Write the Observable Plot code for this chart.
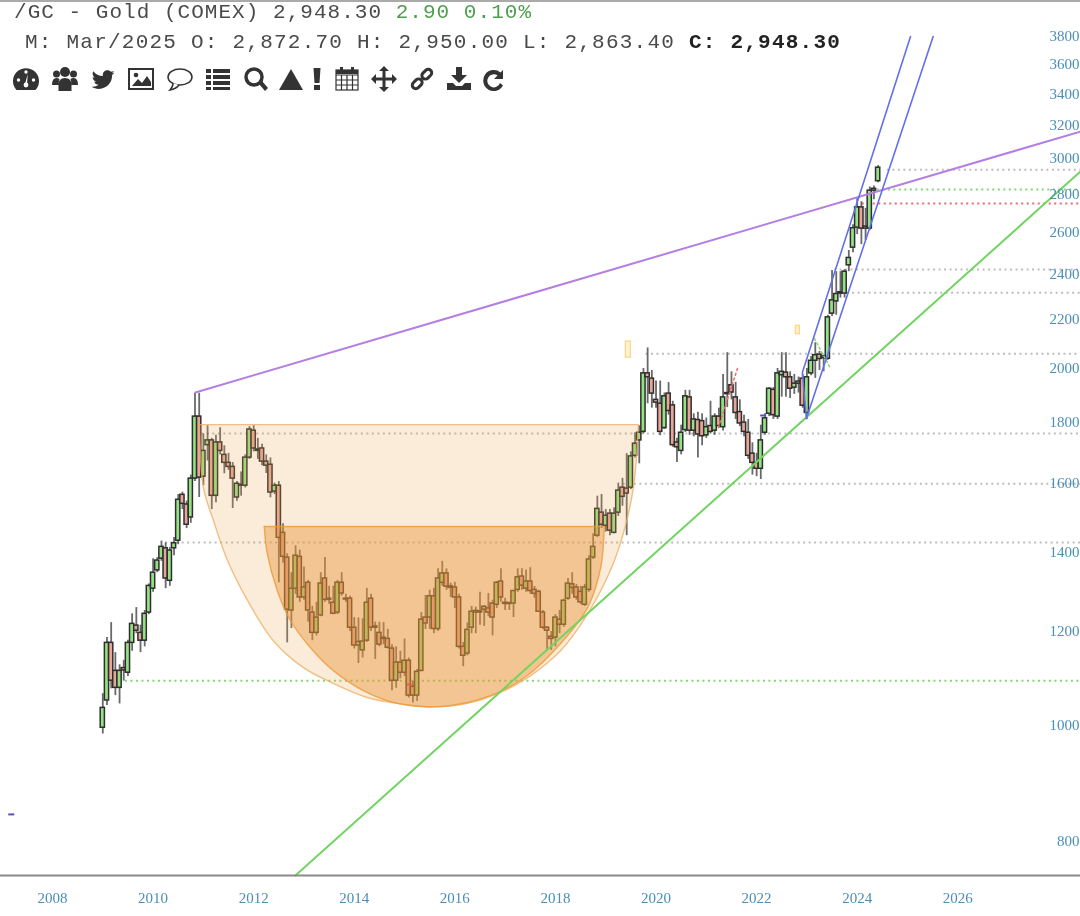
<!DOCTYPE html>
<html><head><meta charset="utf-8">
<script src="https://cdn.jsdelivr.net/npm/d3@7"></script>
<script src="https://cdn.jsdelivr.net/npm/@observablehq/plot@0.6"></script>
<style>
html,body{margin:0;padding:0;background:#fff;width:1080px;height:916px;overflow:hidden}
#wrap{position:relative;width:1080px;height:916px;filter:blur(.5px)}
#chart{position:absolute;left:0;top:0}
#head{position:absolute;left:0;top:0;width:1080px;border-top:2px solid #aaa;font-family:"Liberation Mono",monospace;font-size:21px;color:#4a4a4a;white-space:pre}
.l{position:absolute;line-height:24px}
.icon{position:absolute;top:66px;width:26px;height:26px;fill:#333;stroke:none}
</style></head><body>
<div id="wrap"><div id="chart"></div>
<div id="head">
<div class="l" style="left:14px;top:-1px;letter-spacing:1.03px">/GC - Gold (COMEX) 2,948.30 <span style="color:#4f9e4f">2.90 0.10%</span></div>
<div class="l" style="left:25px;top:29px;letter-spacing:1.23px">M: Mar/2025 O: 2,872.70 H: 2,950.00 L: 2,863.40 <b style="color:#222">C: 2,948.30</b></div>
</div>
<div id="icons"></div>
</div>
<script>
// ---- monthly candles (price, COMEX gold) ----
const opens=[996,1050,1174,1112,1076,1118,1108,1174,1214,1197,1179,1245,1304,1351,1382,1410,1324,1410,1431,1564,1535,1497,1614,1820,1620,1722,1738,1561,1731,1690,1664,1651,1556,1592,1592,1681,1771,1708,1711,1668,1658,1574,1592,1453,1385,1250,1304,1387,1282,1319,1245,1197,1238,1330,1276,1269,1245,1319,1279,1279,1209,1168,1157,1179,1279,1209,1197,1183,1183,1161,1091,1130,1108,1134,1078,1060,1112,1233,1233,1285,1206,1319,1343,1310,1307,1282,1165,1150,1209,1249,1248,1252,1255,1267,1264,1322,1269,1266,1267,1301,1335,1304,1322,1301,1296,1245,1209,1188,1186,1228,1216,1279,1315,1307,1296,1264,1301,1385,1445,1511,1473,1508,1453,1511,1586,1583,1586,1687,1738,1767,1979,1959,1880,1866,1780,1903,1860,1731,1703,1773,1889,1771,1808,1804,1755,1787,1771,1820,1783,1901,1934,1889,1836,1799,1764,1694,1664,1645,1764,1830,1917,1820,1972,1982,1964,1925,1940,1959,1833,1979,2028,2052,2038,2036,2222,2275,2316,2310,2440,2525,2625,2730,2630,2620,2820,2872];
const highs=[1064,1186,1221,1152,1125,1135,1180,1242,1257,1215,1250,1316,1382,1385,1430,1425,1412,1440,1565,1572,1545,1625,1904,1904,1760,1788,1745,1755,1781,1720,1695,1665,1605,1635,1690,1785,1788,1745,1725,1690,1680,1600,1605,1479,1395,1345,1417,1405,1360,1325,1260,1270,1345,1385,1310,1310,1325,1345,1290,1285,1233,1232,1230,1305,1290,1222,1222,1221,1205,1170,1165,1155,1183,1140,1090,1115,1245,1287,1300,1305,1355,1375,1355,1318,1320,1290,1175,1220,1260,1258,1295,1262,1292,1275,1322,1355,1280,1270,1300,1355,1355,1352,1358,1310,1300,1250,1212,1200,1240,1250,1278,1330,1345,1315,1310,1315,1390,1450,1560,1565,1520,1520,1525,1600,1615,1694,1700,1764,1788,1998,2079,1990,1950,1950,1905,1944,1875,1745,1790,1915,1915,1830,1835,1830,1815,1875,1830,1850,1975,2060,1985,1945,1880,1825,1810,1730,1695,1790,1830,1925,1925,1998,2060,2060,1985,1975,1965,1975,1998,2045,2100,2065,2050,2215,2416,2410,2410,2420,2511,2640,2777,2760,2725,2840,2845,2960];
const lows=[984,1040,1074,1060,1043,1090,1100,1155,1195,1152,1165,1240,1295,1345,1375,1304,1310,1390,1420,1520,1465,1480,1605,1556,1592,1670,1520,1540,1690,1629,1640,1523,1545,1560,1585,1675,1700,1675,1655,1630,1555,1565,1319,1370,1174,1207,1290,1270,1275,1222,1179,1190,1235,1270,1265,1240,1240,1285,1270,1200,1160,1128,1140,1175,1200,1137,1165,1170,1160,1070,1075,1095,1100,1055,1045,1048,1110,1205,1205,1195,1200,1310,1300,1282,1255,1160,1121,1145,1195,1195,1215,1212,1235,1190,1255,1270,1250,1250,1233,1295,1300,1295,1290,1280,1245,1205,1157,1157,1165,1195,1210,1275,1290,1275,1265,1260,1295,1380,1440,1465,1455,1445,1450,1500,1530,1445,1580,1680,1661,1760,1866,1850,1850,1754,1775,1825,1715,1665,1690,1765,1755,1750,1680,1720,1745,1760,1755,1780,1770,1852,1880,1810,1785,1750,1675,1625,1620,1611,1755,1820,1810,1810,1890,1890,1885,1900,1905,1850,1810,1970,1960,1990,1985,2030,2210,2215,2290,2290,2410,2500,2590,2540,2560,2610,2770,2863];
const closes=[1035,1174,1091,1076,1112,1113,1174,1218,1202,1179,1242,1311,1345,1377,1414,1330,1404,1424,1549,1537,1476,1614,1820,1617,1703,1738,1561,1731,1703,1664,1651,1614,1598,1595,1681,1775,1711,1703,1668,1655,1571,1592,1439,1387,1252,1304,1390,1282,1307,1250,1197,1233,1317,1276,1279,1242,1319,1292,1277,1209,1168,1176,1177,1269,1209,1212,1170,1186,1163,1091,1130,1108,1134,1060,1060,1110,1228,1219,1285,1206,1330,1343,1309,1306,1282,1165,1145,1204,1247,1245,1245,1259,1245,1233,1319,1282,1266,1268,1298,1333,1312,1322,1298,1291,1247,1209,1202,1183,1233,1216,1274,1317,1306,1282,1270,1307,1380,1414,1522,1476,1502,1459,1508,1577,1558,1568,1685,1727,1764,1979,1964,1903,1870,1767,1893,1840,1722,1715,1764,1893,1771,1810,1758,1752,1783,1767,1820,1787,1889,1905,1907,1833,1796,1767,1687,1664,1645,1738,1814,1921,1825,1979,1985,1964,1921,1940,1948,1859,1964,2028,2050,2035,2045,2206,2280,2308,2310,2410,2475,2622,2730,2620,2620,2820,2830,2948];
const firstYear=2009;                    // the first candle sits on this axis position
const bodyHalfWidth=0.042;               // in years

// ---- axes ----
const yearTicks=[2008,2010,2012,2014,2016,2018,2020,2022,2024,2026];
const priceTicks=[800,1000,1200,1400,1600,1800,2000,2200,2400,2600,2800,3000,3200,3400,3600,3800];

// ---- horizontal levels ----
const grayLevels=[{p:2937,from:2024.6},{p:2420,from:2023.55},{p:2314,from:2023.8},{p:2056,from:2019.8},{p:1761,from:2010.97},{p:1598,from:2019.35},{p:1426,from:2010.25}];
const greenLevels=[{p:2826,from:2024.4},{p:1091,from:2009.45}];
const redLevels=[{p:2750,from:2024.1}];

// ---- trend lines ----
const purpleYears=[2010.84,2028.44], purplePrices=[1907,3162];
const greenYears=[2012.83,2028.44], greenPrices=[748,2926];
const blueYears=[2025.06,2022.91,2022.99,2025.51], bluePrices=[3801,1982,1813,3801];
const zipXY=(xs,ys)=>xs.map((x,i)=>({x,y:ys[i]}));

// ---- bowls: curved edge, closed straight along the top ----
const outerYears=[2010.92,2011.00,2011.20,2011.48,2011.88,2012.39,2012.99,2013.59,2014.26,2014.86,2015.57,2016.25,2016.85,2017.44,2018.10,2018.64,2019.09,2019.35,2019.55,2019.65];
const outerPrices=[1792,1586,1488,1377,1274,1179,1119,1085,1056,1044,1037,1044,1064,1097,1156,1242,1350,1451,1586,1792];
const innerYears=[2012.21,2012.27,2012.47,2012.73,2013.13,2013.59,2014.26,2014.86,2015.57,2016.25,2016.85,2017.44,2018.10,2018.64,2018.90,2018.97];
const innerPrices=[1471,1396,1299,1226,1163,1112,1066,1044,1037,1046,1066,1102,1172,1257,1358,1471];

// ---- small drawing-tool marks ----
const tagBoxes=[{x1:2019.40,x2:2019.50,top:2105,bottom:2040},{x1:2022.78,x2:2022.86,top:2170,bottom:2135}];
const blueTicks=[{x1:2007.13,x2:2007.25,p:842,s:"#5b50c4"},{x1:2022.08,x2:2022.20,p:1824,s:"#5050dd"},{x1:2015.06,x2:2015.18,p:1083,s:"#e8604a"}];
const redDiagYears=[2021.24,2021.62], redDiagPrices=[1782,1998];
const greenDiagYears=[2023.15,2023.47], greenDiagPrices=[2117,1998];

const xScale={type:"linear",domain:[2006.966,2028.44],range:[0,1080]};
const yScale={type:"log",domain:[748,4076],range:[875,0]};
const candles=opens.map((o,i)=>({x:firstYear+i/12,o,h:highs[i],l:lows[i],c:closes[i]}));
const dots={strokeDasharray:"2,3.5",strokeWidth:2};
const levelMark=(rows,stroke)=>Plot.ruleY(rows,{y:"p",x1:"from",x2:()=>2028.44,stroke,...dots});

const plot=Plot.plot({
  width:1080,height:916,marginTop:0,marginRight:0,marginBottom:41,marginLeft:0,
  x:xScale,y:yScale,
  style:{background:"transparent",fontFamily:"'Liberation Serif',serif"},
  marks:[
    levelMark(grayLevels,"#bdbdbd"),
    levelMark(greenLevels,"#86d476"),
    levelMark(redLevels,"#f06a6a"),
    Plot.ruleX(candles,{x:"x",y1:"l",y2:"h",stroke:"#444",strokeWidth:1.8,strokeOpacity:.8}),
    Plot.rect(candles,{x1:d=>d.x-bodyHalfWidth,x2:d=>d.x+bodyHalfWidth,y1:"o",y2:"c",
      fill:d=>d.c>=d.o?"#93e283":"#e9a698",stroke:"#2e2e2e",strokeWidth:1.5}),
    Plot.line(zipXY(redDiagYears,redDiagPrices),{x:"x",y:"y",stroke:"#f06a6a",strokeWidth:1.5,strokeDasharray:"2,3"}),
    Plot.line(zipXY(greenDiagYears,greenDiagPrices),{x:"x",y:"y",stroke:"#86d476",strokeWidth:1.5,strokeDasharray:"2,3"}),
    Plot.line(zipXY(outerYears,outerPrices),{x:"x",y:"y",curve:"catmull-rom",fill:"#e8a850",fillOpacity:.22,stroke:"#efab60",strokeWidth:1.4,strokeOpacity:.75}),
    Plot.line(zipXY(innerYears,innerPrices),{x:"x",y:"y",curve:"catmull-rom",fill:"#e8902f",fillOpacity:.42,stroke:"#ee9a3a",strokeWidth:1.4,strokeOpacity:.8}),
    Plot.ruleY([outerPrices[0]],{x1:outerYears[0],x2:outerYears[19],stroke:"#efab60",strokeWidth:1.4,strokeOpacity:.75}),
    Plot.ruleY([innerPrices[0]],{x1:innerYears[0],x2:innerYears[15],stroke:"#ee9a3a",strokeWidth:1.4,strokeOpacity:.8}),
    Plot.line(zipXY(purpleYears,purplePrices),{x:"x",y:"y",stroke:"#b47fe2",strokeWidth:2}),
    Plot.line(zipXY(greenYears,greenPrices),{x:"x",y:"y",stroke:"#72d463",strokeWidth:2}),
    Plot.line(zipXY(blueYears,bluePrices),{x:"x",y:"y",stroke:"#6470ea",strokeWidth:1.6}),
    Plot.rect(tagBoxes,{x1:"x1",x2:"x2",y1:"bottom",y2:"top",fill:"#fff3d6",stroke:"#fbd68b",strokeWidth:1.3}),
    Plot.ruleY(blueTicks,{y:"p",x1:"x1",x2:"x2",stroke:"s",strokeWidth:2}),
    Plot.ruleY([748],{stroke:"#8a8a8a",strokeWidth:2}),
    Plot.axisX(yearTicks,{anchor:"bottom",tickSize:0,tickPadding:17,tickFormat:d=>String(d),label:null,fontSize:15,fill:"#4a8fb6"}),
    Plot.axisY(priceTicks,{anchor:"left",tickSize:0,tickPadding:0,dx:1079,tickFormat:d=>String(d),label:null,fontSize:15,fill:"#4a8fb6"})
  ]
});
document.getElementById("chart").append(plot);

// ---- toolbar glyphs (not data) ----
const icons=[
 [26,'<path d="M3.500 24a13 13 0 1 1 19 0z"/><g fill="#fff"><circle cx="5.500" cy="14" r="1.700"/><circle cx="13" cy="6" r="1.700"/><circle cx="20.500" cy="14" r="1.700"/><path d="M14.800 8l-.8 10h-2z"/><circle cx="13" cy="19" r="2.400"/></g>'],
 [65,'<circle cx="13" cy="6" r="5"/><circle cx="4.500" cy="8" r="3.500"/><circle cx="21.500" cy="8" r="3.500"/><path d="M0 19q0-7 4.500-7q2 0 3 1q-1 3-1 6H0zM26 19q0-7-4.500-7q-2 0-3 1q1 3 1 6H26zM6.500 25v-6q0-7 6.500-7t6.500 7v6z"/>'],
 [103,'<path transform="scale(1.09)" d="M22.460 6c-.77.35-1.600.58-2.460.69.88-.53 1.560-1.370 1.880-2.380-.83.5-1.750.85-2.720 1.050C18.370 4.500 17.260 4 16 4c-2.350 0-4.270 1.920-4.270 4.290 0 .34.04.67.11.98C8.280 9.090 5.110 7.380 3 4.790c-.37.63-.58 1.370-.58 2.150 0 1.490.75 2.810 1.910 3.560-.71 0-1.370-.2-1.950-.5v.03c0 2.080 1.480 3.820 3.440 4.210a4.220 4.220 0 0 1-1.930.07 4.280 4.280 0 0 0 4 2.980 8.520 8.520 0 0 1-5.330 1.840c-.34 0-.68-.02-1.020-.06C3.440 20.290 5.700 21 8.120 21 16 21 20.330 14.460 20.330 8.790c0-.19 0-.37-.01-.56.84-.6 1.560-1.360 2.140-2.230z"/>'],
 [141,'<rect x="1" y="3" width="24" height="20" fill="none" stroke="#333" stroke-width="2"/><path d="M4 20l6-7 4 4 5-7 4 6v4z"/><circle cx="8" cy="9" r="2.300"/>'],
 [180,'<ellipse cx="13" cy="11" rx="12" ry="8" fill="none" stroke="#333" stroke-width="1.500"/><path d="M6 17q0 4-3 7q6-1 9-5" fill="#fff" stroke="#333" stroke-width="1.500"/>'],
 [218,'<path d="M1 3h5v4H1zM8 3h17v4H8zM1 9h5v4H1zM8 9h17v4H8zM1 15h5v4H1zM8 15h17v4H8zM1 21h5v3H1zM8 21h17v3H8z"/>'],
 [256,'<circle cx="11" cy="11" r="8" fill="none" stroke="#333" stroke-width="3.500"/><path d="M16 18l3-3 6 7-3 3z"/>'],
 [291,'<path d="M13 3l12 21H1z"/>'],
 [317,'<path d="M9.500 2h7l-1 15h-5zM10 19h6v5h-6z"/>'],
 [347,'<g fill="none" stroke="#333" stroke-width="1.200"><rect x="2" y="4" width="22" height="20"/><path d="M2 9h22M2 14h22M2 19h22M7.500 9v15M13 9v15M18.500 9v15"/></g><path d="M6 1h3v6H6zM17 1h3v6h-3zM2 4h22v4H2z"/>'],
 [384,'<path d="M13 0l5 5h-3.500v6.500H21V8l5 5-5 5v-3.500h-6.500V21H18l-5 5-5-5h3.500v-6.500H5V18l-5-5 5-5v3.500h6.500V5H8z"/>'],
 [422,'<g fill="none" stroke="#333" stroke-width="3"><rect x="-4.500" y="-3.500" width="11" height="7" rx="3.500" transform="translate(7.500 18.500) rotate(-45)"/><rect x="-6.500" y="-3.500" width="11" height="7" rx="3.500" transform="translate(18.500 7.500) rotate(-45)"/></g>'],
 [459,'<path d="M10 1h6v8h5l-8 8-8-8h5zM1 17h6l3 3h6l3-3h6v7H1z"/>'],
 [494,'<path d="M22 4v9h-9l3.500-3.500A6.500 6.500 0 1 0 19 17l3 2.500A10.500 10.500 0 1 1 19.500 6.500z"/>']
];
document.getElementById("icons").innerHTML=icons.map(([cx,p])=>`<svg class="icon" viewBox="0 0 26 26" style="left:${cx-13}px">${p}</svg>`).join("");
</script>
</body></html>
